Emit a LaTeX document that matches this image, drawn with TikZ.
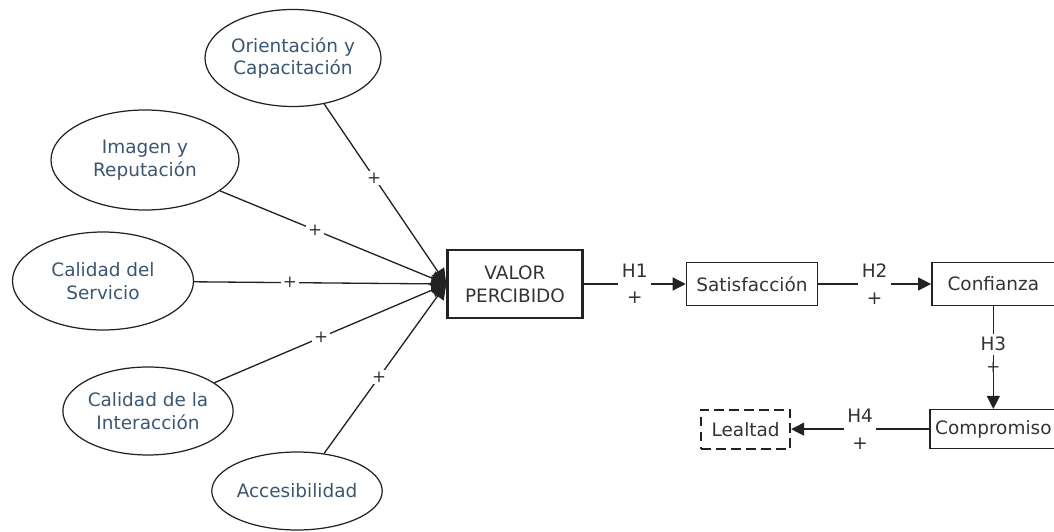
\documentclass[tikz,border=0pt]{standalone}
\usepackage{fontspec}
\setmainfont{DejaVu Sans}
\usetikzlibrary{arrows.meta,positioning,shapes.geometric}
\definecolor{textblue}{HTML}{3A5670}
\definecolor{textgray}{HTML}{333333}
\definecolor{linegray}{HTML}{222222}

\begin{document}
\begin{tikzpicture}[
  latent/.style={draw=linegray, ellipse, align=center, inner sep=0pt, text=textblue,
                 line width=0.7pt, font=\fontsize{10.5}{13}\selectfont},
  box/.style={draw=linegray, align=center, inner sep=3pt, text=textgray,
              font=\fontsize{10.5}{13}\selectfont, line width=0.8pt, minimum height=8.5mm},
  arr/.style={-{Triangle[length=2.6mm, width=2.6mm]}, line width=0.75pt, draw=linegray},
  sign/.style={fill=white, inner sep=1pt, font=\fontsize{9.5}{10}\selectfont, text=textgray},
  hyp/.style={fill=white, inner sep=2pt, align=center, text=textgray,
              font=\fontsize{10.5}{15}\selectfont}]
\useasboundingbox (0,0) rectangle (21.08,10.62);
% constructos de entrada
\node[latent, minimum width=35.2mm, minimum height=19.4mm] (ori) at (5.86,9.46) {Orientación y\\ Capacitación};
\node[latent, minimum width=37.6mm, minimum height=20mm] (ima) at (2.90,7.42) {Imagen y\\ Reputación};
\node[latent, minimum width=36.2mm, minimum height=19.6mm] (ser) at (2.06,5.00) {Calidad del\\ Servicio};
\node[latent, minimum width=32.6mm, minimum height=17.6mm] (int) at (2.96,2.40) {Calidad de la\\ Interacción};
\node[latent, minimum width=31.4mm, minimum height=15.6mm] (acc) at (5.94,0.80) {Accesibilidad};
% cadena principal
\node[box, line width=1.4pt, minimum width=27mm, minimum height=13.6mm] (val) at (10.30,4.94) {VALOR\\ PERCIBIDO};
\node[box, minimum width=26.2mm, right=20.4mm of val] (sat) {Satisfacción};
\node[box, minimum width=24.6mm, right=22.6mm of sat] (con) {Confianza};
\node[box, minimum width=25.4mm, minimum height=7.8mm, below=20.6mm of con] (com) {Compromiso};
\node[box, dash pattern=on 5.5pt off 3pt, line width=1.1pt, minimum width=17.8mm, minimum height=7.8mm,
      left=27.6mm of com] (lea) {Lealtad};
\draw[arr, -{Triangle[length=3mm, width=3mm]}] (ori) -- node[sign, pos=0.41] {+} (val.west);
\draw[arr, -{Triangle[length=3mm, width=3mm]}] (ima) -- node[sign, pos=0.42] {+} (val.west);
\draw[arr, -{Triangle[length=3mm, width=3mm]}] (ser) -- node[sign, pos=0.38] {+} (val.west);
\draw[arr, -{Triangle[length=3mm, width=3mm]}] (int) -- node[sign, pos=0.46] {+} (val.west);
\draw[arr, -{Triangle[length=3mm, width=3mm]}] (acc) -- node[sign, pos=0.45] {+} (val.west);
\draw[arr] (val) -- node[hyp] {H1\\+} (sat);
\draw[arr] (sat) -- node[hyp] {H2\\+} (con);
\draw[arr] (con) -- node[hyp, pos=0.37] {H3} node[sign, fill=none, pos=0.6] {+} (com);
\draw[arr] (com) -- node[hyp] {H4\\+} (lea);
\end{tikzpicture}
\end{document}
